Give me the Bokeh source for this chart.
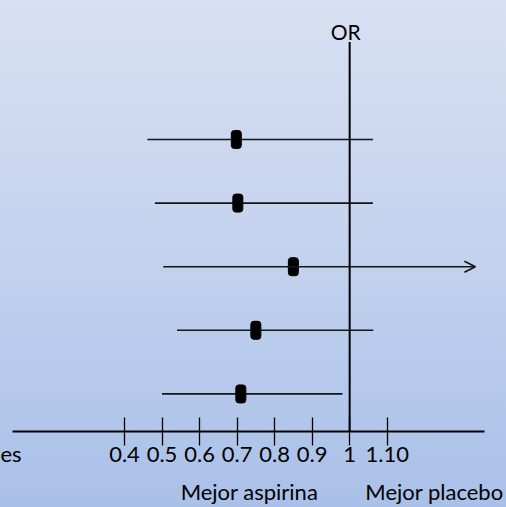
from bokeh.plotting import figure
from bokeh.models import (Range1d, FixedTicker, Label, Arrow, OpenHead,
                          ColumnDataSource, LinearAxis, CustomLabelingPolicy)
from bokeh.embed import file_html
from bokeh.resources import INLINE

# ---- data ----
row = [1, 2, 3, 4, 5]                       # study rows, top to bottom
or_point = [0.698, 0.702, 0.850, 0.750, 0.710]
ci_low = [0.461, 0.481, 0.503, 0.540, 0.500]
ci_high = [1.062, 1.062, 1.335, 1.063, 0.981]
beyond = [False, False, True, False, False]  # CI continues past the scale (arrow)
tick_vals = [0.4, 0.5, 0.6, 0.7, 0.8, 0.9, 1.0, 1.1]
tick_labels = ["0.4", "0.5", "0.6", "0.7", "0.8", "0.9", "1", "1.10"]
ref_value = 1.0
side_labels = ["Mejor aspirina", "Mejor placebo"]
side_x = [0.733, 1.226]
left_note = "es"          # tail of a label cut off at the left edge
left_note_x = 0.075

FONT = "Lato"

p = figure(width=506, height=507, output_backend="svg", toolbar_location=None,
           x_range=Range1d(0.0696, 1.4179), y_range=Range1d(5.591, -1.185),
           y_axis_location=None, min_border_left=0, min_border_right=0,
           min_border_top=0, min_border_bottom=75)
p.styles = {"background": "linear-gradient(180deg, #d8e0f2 0%, #c3d2ee 50%, #a9c0e8 100%)"}
p.background_fill_alpha = 0
p.border_fill_alpha = 0
p.outline_line_color = None
p.xgrid.visible = False
p.ygrid.visible = False

# axis 1: line and tick marks only
ax = p.xaxis[0]
ax.ticker = FixedTicker(ticks=tick_vals)
ax.bounds = (0.1016, 1.3592)
ax.axis_line_width = 2
ax.axis_line_color = "black"
ax.major_tick_in = 14
ax.major_tick_out = 14
ax.major_tick_line_width = 1.3
ax.major_tick_line_color = "black"
ax.minor_tick_line_color = None
ax.major_label_standoff = 0
ax.major_label_text_font_size = "1px"
ax.major_label_policy = CustomLabelingPolicy(code="return new Set()")

# axis 2: tick labels (plus the cut-off note at the left edge)
ax2 = LinearAxis(ticker=FixedTicker(ticks=[left_note_x] + tick_vals),
                 major_label_overrides={v: t for v, t in
                                        zip([left_note_x] + tick_vals,
                                            [left_note] + tick_labels)},
                 axis_line_color=None, major_tick_line_color=None,
                 minor_tick_line_color=None, major_tick_in=0, major_tick_out=0,
                 major_label_standoff=-10, major_label_text_font=FONT,
                 major_label_text_font_size="22px",
                 major_label_text_color="black")
p.add_layout(ax2, "below")

# axis 3: "better" side captions
ax3 = LinearAxis(ticker=FixedTicker(ticks=side_x),
                 major_label_overrides={v: t for v, t in zip(side_x, side_labels)},
                 axis_line_color=None, major_tick_line_color=None,
                 minor_tick_line_color=None, major_tick_in=0, major_tick_out=0,
                 major_label_standoff=8, major_label_text_font=FONT,
                 major_label_text_font_size="22px",
                 major_label_text_color="black")
p.add_layout(ax3, "below")

# reference line at OR = 1
p.segment(x0=[ref_value], y0=[-0.531], x1=[ref_value], y1=[5.591],
          line_color="black", line_width=2)

# confidence intervals
plain = ColumnDataSource(dict(
    y=[r for r, b in zip(row, beyond) if not b],
    lo=[l for l, b in zip(ci_low, beyond) if not b],
    hi=[h for h, b in zip(ci_high, beyond) if not b]))
p.segment(x0="lo", y0="y", x1="hi", y1="y", source=plain,
          line_color="#151515", line_width=1.6)
arr = ColumnDataSource(dict(
    y=[r for r, b in zip(row, beyond) if b],
    lo=[l for l, b in zip(ci_low, beyond) if b],
    hi=[h for h, b in zip(ci_high, beyond) if b]))
p.add_layout(Arrow(x_start="lo", y_start="y", x_end="hi", y_end="y", source=arr,
                   line_color="#151515", line_width=1.6,
                   end=OpenHead(size=11, line_width=1.6, line_color="#151515")))

# point estimates
p.rect(x=or_point, y=row, width=10, height=18, width_units="screen",
       height_units="screen", fill_color="black", line_color="black",
       border_radius=3)

# title of the reference line
p.add_layout(Label(x=ref_value, y=-0.699, x_offset=-4, text="OR",
                   text_align="center", text_baseline="alphabetic",
                   text_font=FONT, text_font_size="21px", text_color="black"))

open("out.html", "w").write(file_html(p, INLINE))
